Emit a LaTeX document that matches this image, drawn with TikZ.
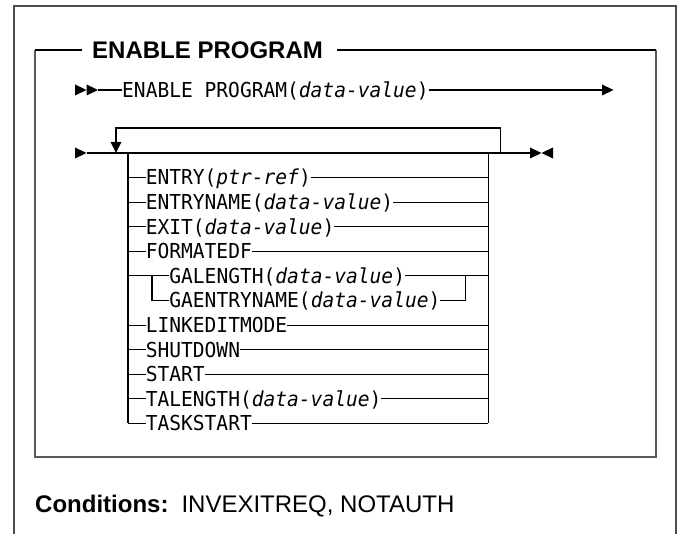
\documentclass[tikz,border=0pt]{standalone}
\usepackage{fontspec}
\setmainfont{Liberation Sans}
\newfontfamily\monof{DejaVu Sans Mono}[FakeStretch=0.95]
\begin{document}
\begin{tikzpicture}[x=1pt,y=-1pt,
  frameout/.style={line width=1.4pt, draw=black!70},
  frameside/.style={line width=2pt, draw=black!65},
  framerule/.style={line width=2pt, draw=black},
  rr/.style={line width=1.1pt, draw=black, line join=miter},
  tip/.style={fill=black, draw=none},
  mono/.style={font=\monof\fontsize{20.6}{24}\selectfont, inner sep=0pt, outer sep=0pt,
               text height=15pt, text depth=0pt, anchor=west},
  heading/.style={font=\fontsize{24}{28}\selectfont\bfseries, inner sep=0pt, anchor=west},
  bodytext/.style={font=\fontsize{24}{28}\selectfont, inner sep=0pt, anchor=west}]
\useasboundingbox (0,0) rectangle (678,534);

% outer frame (open at the bottom)
\draw[frameout] (14,534) -- (14,6) -- (676,6) -- (676,534);

% syntax box
\node[heading] (title) at (92,50) {ENABLE PROGRAM};
\coordinate (tl) at (35,50);
\coordinate (tr) at (656,50);
\coordinate (bl) at (35,457);
\coordinate (br) at (656,457);
\draw[frameside] (tl) -- (bl) -- (br) -- (tr);
\draw[framerule] (tl) -- ([xshift=-10pt]title.west);
\draw[framerule] ([xshift=14pt]title.east) -- (tr);

% ---- row 1
\fill[tip] (75,84.5) -- (86.5,90) -- (75,95.5) -- cycle;
\fill[tip] (86.5,84.5) -- (98,90) -- (86.5,95.5) -- cycle;
\coordinate (r1s) at (98,90);
\node[mono] (r1) at (122.2,90) {ENABLE PROGRAM(\textit{data-value})};
\coordinate (r1e) at (602,90);
\draw[rr] (r1s) -- (r1.west);
\draw[rr] (r1.east) -- (r1e);
\fill[tip] (602,84.5) -- (613.5,90) -- (602,95.5) -- cycle;

% ---- row 2 main line
\fill[tip] (75,147.5) -- (86.5,153) -- (75,158.5) -- cycle;
\coordinate (ms) at (86.5,153);
\coordinate (me) at (530,153);
\draw[rr] (ms) -- (me);
\fill[tip] (530,147.5) -- (541.5,153) -- (530,158.5) -- cycle;
\fill[tip] (553,147.5) -- (541.5,153) -- (553,158.5) -- cycle;

% repeat loop
\coordinate (la) at (116,142);
\coordinate (lb) at (500.3,153);
\draw[rr] (la) -- (116,128) -- (500.3,128) -- (lb);
\fill[tip] (110.5,142) -- (121.5,142) -- (116,153) -- cycle;

% choice stack
\coordinate (sl) at (128,153);
\coordinate (sr) at (488.3,153);
\coordinate (slb) at (128,423.5);
\coordinate (srb) at (488.3,423.5);
\draw[rr] (sl) -- (slb);
\draw[rr] (sr) -- (srb);

\node[mono] (i0) at (145.8,177.5) {ENTRY(\textit{ptr-ref})};
\node[mono] (i1) at (145.8,202.1) {ENTRYNAME(\textit{data-value})};
\node[mono] (i2) at (145.8,226.7) {EXIT(\textit{data-value})};
\node[mono] (i3) at (145.8,251.3) {FORMATEDF};
\node[mono] (i4) at (169.4,275.9) {GALENGTH(\textit{data-value})};
\node[mono] (i5) at (169.4,300.5) {GAENTRYNAME(\textit{data-value})};
\node[mono] (i6) at (145.8,325.1) {LINKEDITMODE};
\node[mono] (i7) at (145.8,349.7) {SHUTDOWN};
\node[mono] (i8) at (145.8,374.3) {START};
\node[mono] (i9) at (145.8,398.9) {TALENGTH(\textit{data-value})};
\node[mono] (i10) at (145.8,423.5) {TASKSTART};

\foreach \n in {0,1,2,3,6,7,8,9,10}{
  \draw[rr] (sl |- i\n.west) -- (i\n.west);
  \draw[rr] (i\n.east) -- (sr |- i\n.east);
}
% nested choice GALENGTH / GAENTRYNAME
\coordinate (gl) at (152,275.9);
\coordinate (glb) at (152,300.5);
\coordinate (gr) at (465.3,275.9);
\coordinate (grb) at (465.3,300.5);
\draw[rr] (sl |- i4.west) -- (i4.west);
\draw[rr] (i4.east) -- (sr |- i4.east);
\draw[rr] (gl) -- (glb) -- (i5.west);
\draw[rr] (i5.east) -- (grb) -- (gr);

% conditions
\node[bodytext] (cond) at (35,506) {\textbf{Conditions:}\hspace{13pt}INVEXITREQ, NOTAUTH};
\end{tikzpicture}
\end{document}
